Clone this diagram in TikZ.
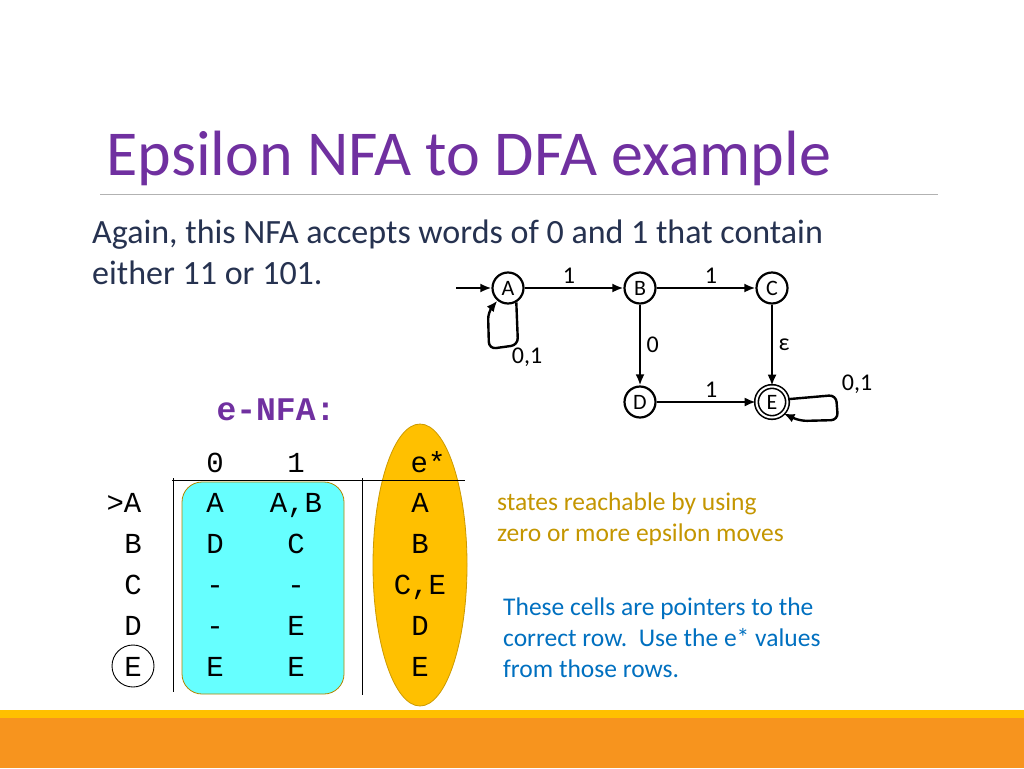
\documentclass[tikz,border=0pt]{standalone}
\usepackage{fontspec}
\setmainfont{Carlito}
\setmonofont{Liberation Mono}
\usetikzlibrary{arrows.meta}
\definecolor{ttl}{RGB}{112,48,160}
\definecolor{gold}{RGB}{255,192,0}
\definecolor{orng}{RGB}{247,148,30}
\definecolor{otxt}{RGB}{196,150,0}
\definecolor{btxt}{RGB}{0,112,192}
\definecolor{bodyc}{RGB}{38,50,80}
\definecolor{cyanb}{RGB}{102,255,255}
\tikzset{st/.style={circle,draw,line width=2.2pt,minimum size=31pt,inner sep=0pt,font=\fontsize{22}{22}\selectfont},
ed/.style={-{Latex[length=11pt,width=9pt]},line width=2.4pt},
lb/.style={font=\fontsize{24}{24}\selectfont},
tt/.style={font=\ttfamily\fontsize{29}{29}\selectfont,anchor=base},
body/.style={font=\fontsize{34}{34}\selectfont,anchor=base west,text=bodyc,inner xsep=0pt}}
\begin{document}
\begin{tikzpicture}[x=1pt,y=-1pt]
\useasboundingbox (0,0) rectangle (1024,768);
\fill[white] (0,0) rectangle (1024,768);
\fill[gold] (0,710) rectangle (1024,718);
\fill[orng] (0,718) rectangle (1024,768);
\node[anchor=base west,text=ttl,font=\fontsize{64}{64}\selectfont] (title) at (103,175) {Epsilon NFA to DFA example};
\draw[gray!60,line width=0.8pt] (100,194) -- (938,194);
\node[body] (t1) at (92,243) {Again, this NFA accepts words of 0 and 1 that contain};
\node[body] (t2) at (92,284) {either 11 or 101.};
% automaton
\node[st] (A) at (508,288) {A};
\node[st] (B) at (640,288) {B};
\node[st] (C) at (772,288) {C};
\node[st] (D) at (640,402) {D};
\node[st,double,double distance=2pt,line width=1.6pt] (E) at (772,402) {E};
\coordinate (s) at (456,288);
\draw[ed] (s) -- (A);
\draw[ed] (A) -- node[lb,above,pos=0.45] {1} (B);
\draw[ed] (B) -- node[lb,above,pos=0.55] {1} (C);
\draw[ed] (B) -- node[lb,right,xshift=2pt] {0} (D);
\draw[ed] (C) -- node[lb,right,xshift=2pt] {ε} (E);
\draw[ed] (D) -- node[lb,above,pos=0.55] {1} (E);
\draw[ed,rounded corners=7pt] (A.-60) -- (518,345) -- (489,349) -- (488,312) -- (A.-130);
\node[lb] (l1) at (527,357) {0,1};
\draw[ed,rounded corners=7pt] (E.10) -- (836,395) -- (838,420) -- (800,421) -- (E.-45);
\node[lb] (l2) at (857,384) {0,1};
% table
\node[anchor=base,text=ttl,font=\ttfamily\bfseries\fontsize{33}{33}\selectfont] (enfa) at (276,420) {e-NFA:};
\fill[cyanb,draw=gold!70!black,line width=0.8pt,rounded corners=20pt] (182,482) rectangle (344,694);
\fill[gold,draw=gold!80!black,line width=0.8pt] (420,565) ellipse (47 and 141);
\draw[line width=0.9pt] (172,480) -- (465,480);
\draw[line width=0.9pt] (173,478) -- (173,692);
\draw[line width=0.9pt] (362,478) -- (362,695);
\node[tt] at (215,472) {0}; \node[tt] at (296,472) {1}; \node[tt] at (428,472) {e*};
\node[tt] at (124,512) {>A}; \node[tt] at (215,512) {A}; \node[tt] at (296,512) {A,B}; \node[tt] at (420,512) {A};
\node[tt] at (133,553) {B}; \node[tt] at (215,553) {D}; \node[tt] at (296,553) {C}; \node[tt] at (420,553) {B};
\node[tt] at (133,594) {C}; \node[tt] at (215,594) {-}; \node[tt] at (296,594) {-}; \node[tt] at (420,594) {C,E};
\node[tt] at (133,635) {D}; \node[tt] at (215,635) {-}; \node[tt] at (296,635) {E}; \node[tt] at (420,635) {D};
\node[tt] (eE) at (133,676) {E}; \node[tt] at (215,676) {E}; \node[tt] at (296,676) {E}; \node[tt] at (420,676) {E};
\draw[line width=0.9pt] (133,666) circle (21);
% notes
\node[anchor=base west,inner xsep=0pt,text=otxt,font=\fontsize{25.5}{25.5}\selectfont] (n1) at (497,510) {states reachable by using};
\node[anchor=base west,inner xsep=0pt,text=otxt,font=\fontsize{25.5}{25.5}\selectfont] (n2) at (497,541) {zero or more epsilon moves};
\node[anchor=base west,inner xsep=0pt,text=btxt,font=\fontsize{25.5}{25.5}\selectfont] (m1) at (503,615) {These cells are pointers to the};
\node[anchor=base west,inner xsep=0pt,text=btxt,font=\fontsize{25.5}{25.5}\selectfont] (m2) at (503,646) {correct row.\ \ Use the e* values};
\node[anchor=base west,inner xsep=0pt,text=btxt,font=\fontsize{25.5}{25.5}\selectfont] (m3) at (503,677) {from those rows.};
\end{tikzpicture}
\end{document}
